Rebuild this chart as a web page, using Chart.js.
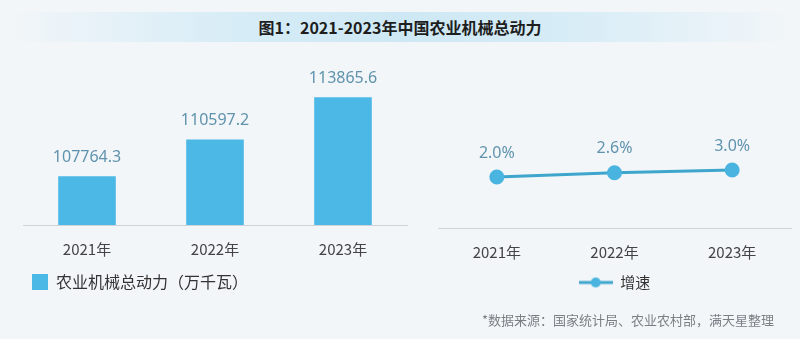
<!DOCTYPE html>
<html>
<head>
<meta charset="utf-8">
<script src="https://cdn.jsdelivr.net/npm/chart.js@4.4.1/dist/chart.umd.min.js"></script>
<style>
  html, body { margin: 0; padding: 0; }
  body {
    width: 800px; height: 339px; position: relative; overflow: hidden;
    background: #f3f6f9;
    font-family: "Noto Sans CJK SC", "Noto Sans", sans-serif;
  }
  #title {
    position: absolute; left: 0; top: 12px; width: 800px; height: 30px;
    background: linear-gradient(90deg, rgba(225,240,248,0) 0%, #d6ecf6 30%, #cde8f4 50%, #d6ecf6 70%, rgba(225,240,248,0) 100%);
    text-align: center; line-height: 30px;
    font-size: 16px; font-weight: bold; color: #1e1e1e;
  }
  .box { position: absolute; }
  #barBox { left: 0; top: 50px; width: 410px; height: 256px; }
  #lineBox { left: 400px; top: 50px; width: 400px; height: 256px; }
  #source {
    position: absolute; left: 482px; top: 310px; white-space: nowrap;
    font-size: 13px; color: #7a7f85;
  }
</style>
</head>
<body>
<div id="title">图1：2021-2023年中国农业机械总动力</div>
<div class="box" id="barBox"><canvas id="barChart"></canvas></div>
<div class="box" id="lineBox"><canvas id="lineChart"></canvas></div>
<div id="source">*数据来源：国家统计局、农业农村部，满天星整理</div>

<script>
const years = ["2021年", "2022年", "2023年"];
const totalPower = [107764.3, 110597.2, 113865.6];
const growthRate = [2.0, 2.6, 3.0];
const powerLabel = "农业机械总动力（万千瓦）";
const growthLabel = "增速";

const barColor = "#4cb8e6";
const lineColor = "#3ea6cc";
const valueColor = "#5f93ad";
const tickColor = "#444";

// draws the value text above each bar / point
const valueLabels = {
  id: "valueLabels",
  afterDatasetsDraw(chart, args, opts) {
    const ctx = chart.ctx;
    const meta = chart.getDatasetMeta(0);
    const data = chart.data.datasets[0].data;
    ctx.save();
    ctx.font = "16px 'Noto Sans'";
    ctx.fillStyle = valueColor;
    ctx.textAlign = "center";
    ctx.textBaseline = "middle";
    meta.data.forEach((el, i) => {
      ctx.fillText(opts.format(data[i]), el.x, el.y - opts.offset);
    });
    ctx.restore();
  }
};

// legend marker for the line: a short line with a dot in the middle
const lineMarker = document.createElement("canvas");
lineMarker.width = 34;
lineMarker.height = 12;
(function () {
  const c = lineMarker.getContext("2d");
  c.strokeStyle = lineColor;
  c.lineWidth = 3;
  c.beginPath();
  c.moveTo(0, 6);
  c.lineTo(34, 6);
  c.stroke();
  c.fillStyle = "#4ab4e0";
  c.beginPath();
  c.arc(17, 6, 5, 0, Math.PI * 2);
  c.fill();
})();

function xAxis() {
  return {
    offset: true,
    grid: { display: false, offset: true },
    border: { display: true, color: "#cfd4d8", width: 1 },
    ticks: { color: tickColor, font: { size: 15, family: "'Noto Sans CJK SC'" }, padding: 7 }
  };
}

new Chart(document.getElementById("barChart"), {
  type: "bar",
  data: {
    labels: years,
    datasets: [{
      label: powerLabel,
      data: totalPower,
      backgroundColor: barColor,
      categoryPercentage: 1,
      barPercentage: 0.45
    }]
  },
  options: {
    responsive: true,
    maintainAspectRatio: false,
    animation: false,
    layout: { padding: { left: 23, right: 3, top: 10, bottom: 6 } },
    scales: {
      x: xAxis(),
      y: { display: false, min: 104000, max: 116743 }
    },
    plugins: {
      legend: {
        position: "bottom",
        align: "start",
        labels: {
          color: "#333",
          font: { size: 16, family: "'Noto Sans CJK SC'" },
          boxWidth: 16, boxHeight: 16, padding: 9
        }
      },
      tooltip: { enabled: false },
      valueLabels: { offset: 19, format: v => v.toFixed(1) }
    }
  },
  plugins: [valueLabels]
});

new Chart(document.getElementById("lineChart"), {
  type: "line",
  data: {
    labels: years,
    datasets: [{
      label: growthLabel,
      data: growthRate,
      borderColor: lineColor,
      borderWidth: 3,
      pointBackgroundColor: "#4ab4e0",
      pointBorderColor: "#4ab4e0",
      pointRadius: 6,
      pointStyle: "circle",
      tension: 0
    }]
  },
  options: {
    responsive: true,
    maintainAspectRatio: false,
    animation: false,
    layout: { padding: { left: 38, right: 9, top: 10, bottom: 6 } },
    scales: {
      x: xAxis(),
      y: { display: false, min: -5.29, max: 18.71 }
    },
    plugins: {
      legend: {
        position: "bottom",
        labels: {
          color: "#333",
          font: { size: 15, family: "'Noto Sans CJK SC'" },
          usePointStyle: true,
          pointStyle: lineMarker,
          pointStyleWidth: 34,
          padding: 7
        }
      },
      tooltip: { enabled: false },
      valueLabels: { offset: 24, format: v => v.toFixed(1) + "%" }
    }
  },
  plugins: [valueLabels]
});
</script>
</body>
</html>
